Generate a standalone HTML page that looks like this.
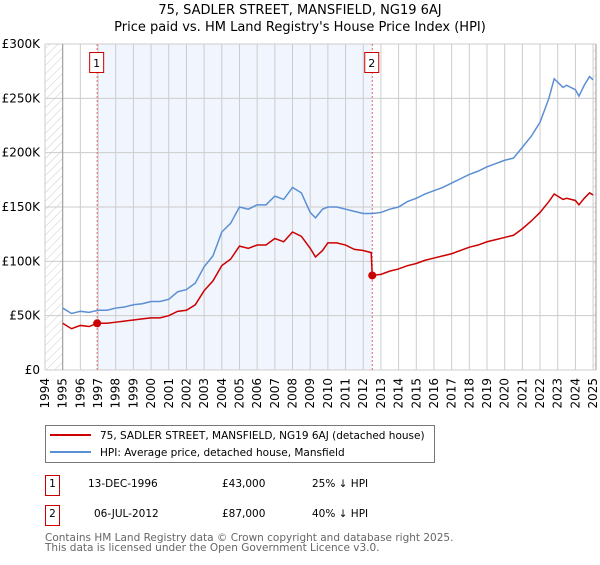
<!DOCTYPE html>
<html><head><meta charset="utf-8"><style>
body{margin:0;background:#fff;font-family:"Liberation Sans","DejaVu Sans",sans-serif;}
svg text{font-family:"DejaVu Sans","Liberation Sans",sans-serif;}
</style></head><body>
<svg id="chart" width="600" height="560" viewBox="0 0 600 560">
<defs><pattern id="hatch" width="6" height="6" patternUnits="userSpaceOnUse" patternTransform="rotate(45)"><line x1="0" y1="0" x2="0" y2="6" stroke="#ccc" stroke-width="1"/></pattern></defs>
<text x="300" y="14" text-anchor="middle" font-size="13">75, SADLER STREET, MANSFIELD, NG19 6AJ</text>
<text x="300" y="31" text-anchor="middle" font-size="13">Price paid vs. HM Land Registry's House Price Index (HPI)</text>
<g id="plot"></g>
<rect x="45.5" y="425.5" width="389" height="37" fill="#fff" stroke="#777"/>
<line x1="50" y1="435" x2="91" y2="435" stroke="#cc0000" stroke-width="2"/>
<text x="100" y="439" font-size="10.5">75, SADLER STREET, MANSFIELD, NG19 6AJ (detached house)</text>
<line x1="50" y1="452" x2="91" y2="452" stroke="#5b8fd4" stroke-width="2"/>
<text x="100" y="456" font-size="10.5">HPI: Average price, detached house, Mansfield</text>
<rect x="45.5" y="475.5" width="14" height="20" fill="#fff" stroke="#cc0000"/>
<text x="52.5" y="487" text-anchor="middle" font-size="10.5">1</text>
<text x="88" y="487" font-size="10.5">13-DEC-1996</text>
<text x="222" y="487" font-size="10.5">£43,000</text>
<text x="312" y="487" font-size="10.5">25% ↓ HPI</text>
<rect x="45.5" y="505.5" width="14" height="20" fill="#fff" stroke="#cc0000"/>
<text x="52.5" y="517" text-anchor="middle" font-size="10.5">2</text>
<text x="94" y="517" font-size="10.5">06-JUL-2012</text>
<text x="222" y="517" font-size="10.5">£87,000</text>
<text x="312" y="517" font-size="10.5">40% ↓ HPI</text>
<text x="45" y="541" font-size="10.5" fill="#666">Contains HM Land Registry data © Crown copyright and database right 2025.</text>
<text x="45" y="551" font-size="10.5" fill="#666">This data is licensed under the Open Government Licence v3.0.</text>
</svg>
<script>
const yTicks=[0,50,100,150,200,250,300];
const yTickLabels=["£0","£50K","£100K","£150K","£200K","£250K","£300K"];
const xYears=[1994,1995,1996,1997,1998,1999,2000,2001,2002,2003,2004,2005,2006,2007,2008,2009,2010,2011,2012,2013,2014,2015,2016,2017,2018,2019,2020,2021,2022,2023,2024,2025];
const hpiT=[1995,1995.5,1996,1996.5,1997,1997.5,1998,1998.5,1999,1999.5,2000,2000.5,2001,2001.5,2002,2002.5,2003,2003.5,2004,2004.5,2005,2005.5,2006,2006.5,2007,2007.5,2008,2008.5,2009,2009.3,2009.7,2010,2010.5,2011,2011.5,2012,2012.5,2013,2013.5,2014,2014.5,2015,2015.5,2016,2016.5,2017,2017.5,2018,2018.5,2019,2019.5,2020,2020.5,2021,2021.5,2022,2022.5,2022.8,2023.3,2023.5,2024,2024.2,2024.5,2024.8,2025];
const hpiV=[57,52,54,53,55,55,57,58,60,61,63,63,65,72,74,80,95,105,127,135,150,148,152,152,160,157,168,163,145,140,148,150,150,148,146,144,144,145,148,150,155,158,162,165,168,172,176,180,183,187,190,193,195,205,215,228,250,268,260,262,258,252,262,270,267];
const propT=[1995,1995.5,1996,1996.5,1996.95,1997.5,1998,1998.5,1999,1999.5,2000,2000.5,2001,2001.5,2002,2002.5,2003,2003.5,2004,2004.5,2005,2005.5,2006,2006.5,2007,2007.5,2008,2008.5,2009,2009.3,2009.7,2010,2010.5,2011,2011.5,2012,2012.45,2012.51,2013,2013.5,2014,2014.5,2015,2015.5,2016,2016.5,2017,2017.5,2018,2018.5,2019,2019.5,2020,2020.5,2021,2021.5,2022,2022.5,2022.8,2023.3,2023.5,2024,2024.2,2024.5,2024.8,2025];
const propV=[43,38,41,40,43,43,44,45,46,47,48,48,50,54,55,60,73,82,96,102,114,112,115,115,121,118,127,123,112,104,110,117,117,115,111,110,108,87,88,91,93,96,98,101,103,105,107,110,113,115,118,120,122,124,130,137,145,155,162,157,158,156,152,158,163,161];
const saleT=[1996.95,2012.51];
const saleV=[43,87];
const saleLabels=["1","2"];
const NS="http://www.w3.org/2000/svg";
const L=45,R=596,T=44,B=370;
const xs=y=>L+(y-1994)*17.68;
const ys=v=>B-v*(B-T)/300;
const g=document.getElementById('plot');
function mk(tag,attrs){const e=document.createElementNS(NS,tag);for(const k in attrs)e.setAttribute(k,attrs[k]);g.appendChild(e);return e;}
let e;
e=mk('rect',{x:xs(1994),y:T,width:xs(1995)-xs(1994),height:B-T,fill:'url(#hatch)'});


e=mk('rect',{x:xs(2025),y:T,width:R-xs(2025),height:B-T,fill:'url(#hatch)'});


e=mk('rect',{x:xs(saleT[0]),y:T,width:xs(saleT[1])-xs(saleT[0]),height:B-T,fill:'#eef2fc',opacity:0.8});


xYears.forEach(yr=>{
 e=mk('line',{x1:xs(yr),x2:xs(yr),y1:T,y2:B,stroke:'#cccccc','stroke-width':1});
 
 
 e=mk('text',{x:0,y:0,'font-size':12,'text-anchor':'end',transform:`translate(${xs(yr)+4},378) rotate(-90)`});
 e.textContent=yr;
 
 
});
yTicks.forEach((v,i)=>{
 e=mk('line',{x1:L,x2:R,y1:ys(v),y2:ys(v),stroke:'#cccccc','stroke-width':1});
 
 
 e=mk('text',{x:40,y:ys(v)+4,'font-size':12,'text-anchor':'end'});
 e.textContent=yTickLabels[i];
 
 
});
e=mk('line',{x1:xs(1995),x2:xs(1995),y1:T,y2:B,stroke:'#999'});


e=mk('line',{x1:R,x2:R,y1:T,y2:B,stroke:'#999'});


saleT.forEach((t,i)=>{
 e=mk('line',{x1:xs(t),x2:xs(t),y1:T,y2:B,stroke:'#e06666','stroke-dasharray':'2,2'});
 
 
 e=mk('rect',{x:xs(t)-7.5,y:52.5,width:14,height:20,fill:'#fff',stroke:'#cc0000'});
 
 
 e=mk('text',{x:xs(t)-0.5,y:67,'font-size':11,'text-anchor':'middle'});
 e.textContent=saleLabels[i];
 
 
});
e=mk('polyline',{points:hpiT.map((t,i)=>xs(t)+','+ys(hpiV[i])).join(' '),fill:'none',stroke:'#5b8fd4','stroke-width':1.5});


e=mk('polyline',{points:propT.map((t,i)=>xs(t)+','+ys(propV[i])).join(' '),fill:'none',stroke:'#cc0000','stroke-width':1.5});


saleT.forEach((t,i)=>{
 e=mk('circle',{cx:xs(t),cy:ys(saleV[i]),r:4,fill:'#cc0000'});
 
 
});
</script>
</body></html>
